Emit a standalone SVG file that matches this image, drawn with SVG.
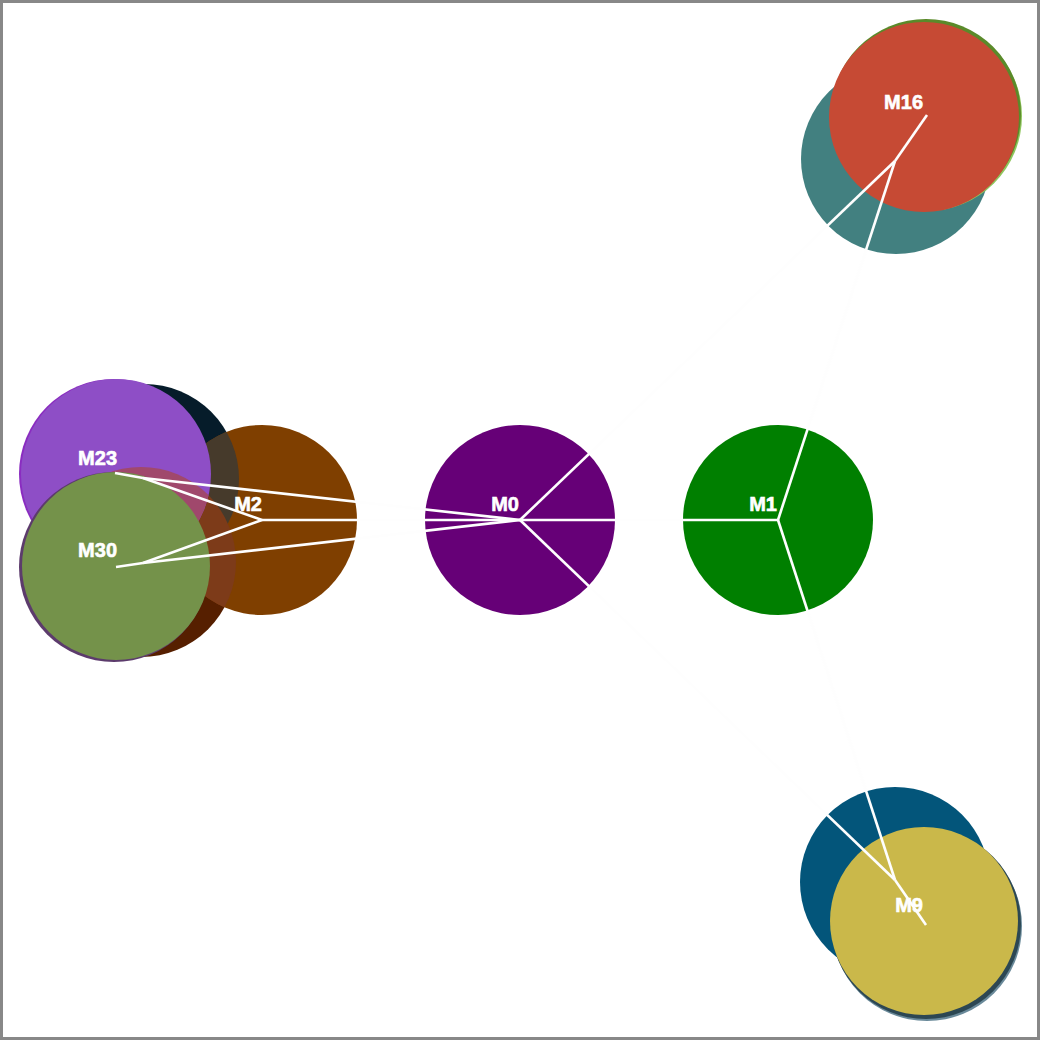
<svg xmlns="http://www.w3.org/2000/svg" width="1040" height="1040" viewBox="0 0 1040 1040">
  <style>
    .lbl { font-family: "Liberation Sans", Arial, sans-serif; font-size: 20px; font-weight: 700; fill: #ffffff; stroke: #ffffff; stroke-width: 0.6; text-anchor: end; }
    .edge { stroke: #fefefe; stroke-width: 2.6; fill: none; stroke-linecap: butt; }
  </style>
  <defs>
    <clipPath id="cpM2"><circle cx="262" cy="520" r="95"/></clipPath>
    <clipPath id="cpM23"><circle cx="116" cy="474" r="95"/></clipPath>
  </defs>
  <rect x="0" y="0" width="1040" height="1040" fill="#ffffff"/>
  <rect x="1.5" y="1.5" width="1037" height="1037" fill="none" stroke="#888888" stroke-width="3"/>

  <!-- left cluster -->
  <g id="node-n-navy"><circle cx="144" cy="479" r="95" fill="#061c2a"/></g>
  <g id="node-n-darkbrown"><circle cx="141" cy="562" r="95" fill="#561f00"/></g>
  <g id="node-M2">
    <circle cx="262" cy="520" r="95" fill="#7f3f00"/>
    <g clip-path="url(#cpM2)">
      <circle cx="144" cy="479" r="95" fill="#463a2b"/>
      <circle cx="141" cy="562" r="95" fill="#7d3b19"/>
    </g>
    <text class="lbl" x="262" y="511">M2</text>
  </g>
  <g id="node-M23">
    <circle cx="114" cy="474" r="95" fill="#8a2cc0"/>
    <circle cx="116" cy="474" r="95" fill="#8e4ec6"/>
    <g clip-path="url(#cpM23)">
      <circle cx="141" cy="562" r="95" fill="#a0486c"/>
    </g>
    <text class="lbl" x="117" y="465">M23</text>
  </g>
  <g id="node-M30">
    <circle cx="114" cy="567" r="95" fill="#5c3b6c"/>
    <circle cx="116" cy="566" r="94" fill="#74924a"/>
    <text class="lbl" x="117" y="557">M30</text>
  </g>

  <!-- centre -->
  <g id="node-M0">
    <circle cx="520" cy="520" r="95" fill="#660077"/>
    <text class="lbl" x="519" y="511">M0</text>
  </g>
  <g id="node-M1">
    <circle cx="778" cy="520" r="95" fill="#007f00"/>
    <text class="lbl" x="777" y="511">M1</text>
  </g>

  <!-- top right cluster -->
  <g id="node-n-teal"><circle cx="896" cy="159" r="95" fill="#428080"/></g>
  <g id="node-n-green">
    <circle cx="927" cy="116" r="95" fill="#8fc65e"/>
    <circle cx="926" cy="114" r="95" fill="#5a8a2a"/>
  </g>
  <g id="node-M16">
    <circle cx="924" cy="117" r="95" fill="#c64a34"/>
    <text class="lbl" x="923" y="109">M16</text>
  </g>

  <!-- bottom right cluster -->
  <g id="node-n-navyteal"><circle cx="895" cy="882" r="95" fill="#03557a"/></g>
  <g id="node-n-slate">
    <circle cx="927" cy="926" r="95" fill="#6a8a9a"/>
    <circle cx="926" cy="924" r="95" fill="#2c4753"/>
  </g>
  <g id="node-M9">
    <circle cx="924" cy="921" r="94" fill="#cab84a"/>
    <text class="lbl" x="923" y="912">M9</text>
  </g>

  <g id="connectors">
    <line class="edge" x1="520" y1="520" x2="778" y2="520"/>
    <line class="edge" x1="520" y1="520" x2="262" y2="520"/>
    <line class="edge" x1="520" y1="520" x2="143" y2="478"/>
    <line class="edge" x1="520" y1="520" x2="143" y2="563"/>
    <line class="edge" x1="262" y1="520" x2="143" y2="478"/>
    <line class="edge" x1="262" y1="520" x2="143" y2="563"/>
    <line class="edge" x1="143" y1="478" x2="115" y2="473"/>
    <line class="edge" x1="143" y1="563" x2="116" y2="567"/>
    <line class="edge" x1="520" y1="520" x2="895" y2="161"/>
    <line class="edge" x1="778" y1="520" x2="895" y2="161"/>
    <line class="edge" x1="895" y1="161" x2="927" y2="115"/>
    <line class="edge" x1="520" y1="520" x2="895" y2="880"/>
    <line class="edge" x1="778" y1="520" x2="895" y2="880"/>
    <line class="edge" x1="895" y1="880" x2="926" y2="925"/>
  </g>
</svg>
